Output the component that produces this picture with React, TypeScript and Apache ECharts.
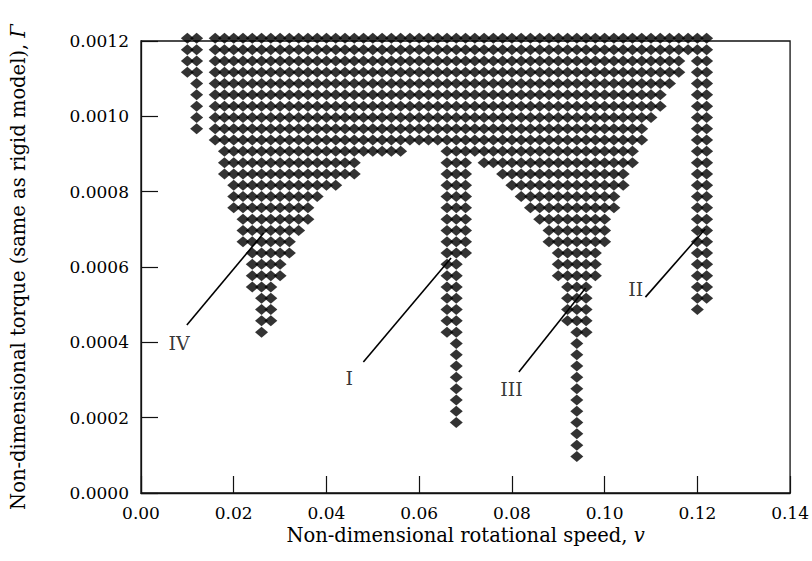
import React, { useEffect, useRef } from "react";
import * as echarts from "echarts";

const FONT = "'DejaVu Serif', 'Liberation Serif', serif";

// Torque levels of the grid rows (top to bottom)
const torqueLevels = [
  0.001207, 0.001177, 0.001147, 0.001117, 0.001087, 0.001057, 0.001027, 0.000997,
  0.000967, 0.000937, 0.000907, 0.000877, 0.000847, 0.000817, 0.000787, 0.000757,
  0.000727, 0.000697, 0.000667, 0.000637, 0.000607, 0.000577, 0.000547, 0.000517,
  0.000487, 0.000457, 0.000427, 0.000397, 0.000367, 0.000337, 0.000307, 0.000277,
  0.000247, 0.000217, 0.000187, 0.000157, 0.000127, 0.000097,
];

// Filled speed ranges [from, to] for each torque row (grid spacing 0.002)
const speedSegments: number[][][] = [
  [[0.010, 0.012], [0.016, 0.122]],
  [[0.010, 0.012], [0.016, 0.122]],
  [[0.010, 0.012], [0.016, 0.116], [0.120, 0.122]],
  [[0.010, 0.012], [0.016, 0.116], [0.120, 0.122]],
  [[0.012, 0.012], [0.016, 0.114], [0.120, 0.122]],
  [[0.012, 0.012], [0.016, 0.112], [0.120, 0.122]],
  [[0.012, 0.012], [0.016, 0.112], [0.120, 0.122]],
  [[0.012, 0.012], [0.016, 0.110], [0.120, 0.122]],
  [[0.012, 0.012], [0.016, 0.108], [0.120, 0.122]],
  [[0.016, 0.108], [0.120, 0.122]],
  [[0.018, 0.056], [0.066, 0.106], [0.120, 0.122]],
  [[0.018, 0.046], [0.066, 0.070], [0.074, 0.106], [0.120, 0.122]],
  [[0.018, 0.046], [0.066, 0.070], [0.078, 0.104], [0.120, 0.122]],
  [[0.020, 0.042], [0.066, 0.070], [0.080, 0.104], [0.120, 0.122]],
  [[0.020, 0.038], [0.066, 0.070], [0.082, 0.102], [0.120, 0.122]],
  [[0.020, 0.036], [0.066, 0.070], [0.084, 0.102], [0.120, 0.122]],
  [[0.022, 0.036], [0.066, 0.070], [0.086, 0.100], [0.120, 0.122]],
  [[0.022, 0.034], [0.066, 0.070], [0.088, 0.100], [0.120, 0.122]],
  [[0.022, 0.032], [0.066, 0.070], [0.088, 0.100], [0.120, 0.122]],
  [[0.024, 0.032], [0.066, 0.070], [0.090, 0.098], [0.120, 0.122]],
  [[0.024, 0.030], [0.066, 0.068], [0.090, 0.098], [0.120, 0.122]],
  [[0.024, 0.030], [0.066, 0.068], [0.090, 0.098], [0.120, 0.122]],
  [[0.024, 0.028], [0.066, 0.068], [0.092, 0.096], [0.120, 0.122]],
  [[0.026, 0.028], [0.066, 0.068], [0.092, 0.096], [0.120, 0.122]],
  [[0.026, 0.028], [0.066, 0.068], [0.092, 0.096], [0.120, 0.120]],
  [[0.026, 0.028], [0.066, 0.068], [0.092, 0.096]],
  [[0.026, 0.026], [0.066, 0.068], [0.094, 0.096]],
  [[0.068, 0.068], [0.094, 0.094]],
  [[0.068, 0.068], [0.094, 0.094]],
  [[0.068, 0.068], [0.094, 0.094]],
  [[0.068, 0.068], [0.094, 0.094]],
  [[0.068, 0.068], [0.094, 0.094]],
  [[0.068, 0.068], [0.094, 0.094]],
  [[0.068, 0.068], [0.094, 0.094]],
  [[0.068, 0.068], [0.094, 0.094]],
  [[0.094, 0.094]],
  [[0.094, 0.094]],
  [[0.094, 0.094]],
];
const gridStep = 0.002;

// Region labels and leader lines (data coordinates)
const regionNames = ["IV", "I", "III", "II"];
const labelSpeed = [0.0082, 0.0449, 0.0799, 0.1067];
const labelTorque = [0.000398, 0.000305, 0.000277, 0.000542];
const leaderStart = [
  [0.00989, 0.000446],
  [0.04796, 0.000348],
  [0.0815, 0.000321],
  [0.1088, 0.00052],
];
const leaderEnd = [
  [0.02645, 0.00069],
  [0.06688, 0.000624],
  [0.0959, 0.000544],
  [0.1217, 0.000701],
];

function buildPoints() {
  const pts: number[][] = [];
  torqueLevels.forEach((t, r) => {
    speedSegments[r].forEach(([a, b]) => {
      const n = Math.round((b - a) / gridStep);
      for (let j = 0; j <= n; j++) {
        pts.push([+(a + j * gridStep).toFixed(3), t]);
      }
    });
  });
  return pts;
}

export default function App() {
  const ref = useRef<HTMLDivElement>(null);
  useEffect(() => {
    const chart = echarts.init(ref.current!, null, { renderer: "svg" });
    const axisColor = "#111";
    const textColor = "#000";
    const option: any = {
      animation: false,
      backgroundColor: "#ffffff",
      grid: {
        left: 141,
        right: 20,
        top: 41,
        bottom: 68,
        show: true,
        borderColor: axisColor,
        borderWidth: 1.3,
        backgroundColor: "transparent",
      },
      xAxis: {
        type: "value",
        min: 0,
        max: 0.14,
        interval: 0.02,
        name: "Non-dimensional rotational speed, {it|v}",
        nameLocation: "middle",
        nameGap: 32,
        nameTextStyle: {
          fontFamily: FONT,
          fontSize: 19.5,
          color: textColor,
          rich: { it: { fontFamily: FONT, fontSize: 19.5, fontStyle: "italic", color: textColor } },
        },
        axisLine: { show: true, lineStyle: { color: axisColor, width: 1.3 } },
        axisTick: { show: true, inside: true, length: 17, lineStyle: { color: axisColor, width: 1.2 } },
        axisLabel: {
          fontFamily: FONT,
          fontSize: 17,
          color: textColor,
          margin: 11,
          formatter: (v: number) => v.toFixed(2),
        },
        splitLine: { show: false },
      },
      yAxis: {
        type: "value",
        min: 0,
        max: 0.0012,
        interval: 0.0002,
        name: "Non-dimensional torque (same as rigid model), {it|Γ}",
        nameLocation: "middle",
        nameGap: 113,
        nameTextStyle: {
          fontFamily: FONT,
          fontSize: 19.5,
          color: textColor,
          rich: { it: { fontFamily: FONT, fontSize: 19.5, fontStyle: "italic", color: textColor } },
        },
        axisLine: { show: true, lineStyle: { color: axisColor, width: 1.3 } },
        axisTick: { show: true, inside: true, length: 17, lineStyle: { color: axisColor, width: 1.2 } },
        axisLabel: {
          fontFamily: FONT,
          fontSize: 17,
          color: textColor,
          margin: 12,
          formatter: (v: number) => v.toFixed(4),
        },
        splitLine: { show: false },
      },
      series: [
        {
          type: "scatter",
          name: "points",
          data: buildPoints(),
          symbol: "diamond",
          symbolSize: [13, 11],
          clip: false,
          itemStyle: { color: "#000000" },
          silent: true,
          z: 2,
        },
        ...regionNames.map((n, i) => ({
          type: "line",
          name: "leader " + n,
          data: [leaderStart[i], leaderEnd[i]],
          symbol: "none",
          lineStyle: { color: "#000000", width: 1.6 },
          silent: true,
          z: 3,
        })),
        {
          type: "scatter",
          name: "labels",
          symbolSize: 0,
          data: regionNames.map((n, i) => ({ name: n, value: [labelSpeed[i], labelTorque[i]] })),
          label: {
            show: true,
            position: "inside",
            formatter: "{b}",
            fontFamily: FONT,
            fontSize: 19,
            color: textColor,
          },
          silent: true,
          z: 4,
        },
      ],
    };
    chart.setOption(option);
    return () => chart.dispose();
  }, []);
  return (
    <div
      ref={ref}
      style={{ position: "fixed", left: 0, top: 0, width: 812, height: 561, background: "#fff" }}
    />
  );
}
